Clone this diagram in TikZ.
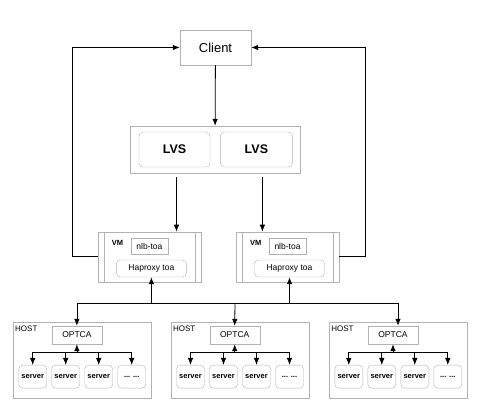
\documentclass[tikz,border=0pt]{standalone}
\usepackage{fontspec}
\setmainfont{Liberation Sans}
\usetikzlibrary{arrows.meta,positioning}

\begin{document}
\begin{tikzpicture}[x=1pt, y=-1pt, >={Latex[length=7pt,width=5.5pt]},
        box/.style={draw=gray!60, inner sep=0pt},
        soft/.style={box, rounded corners=4pt},
        link/.style={->, black, line width=0.8pt},
        small/.style={font=\fontsize{8.5}{10}\selectfont},
        srvbox/.style={soft, minimum width=28pt, minimum height=23pt, font=\bfseries\fontsize{7.5}{9}\selectfont}
    ]
    \useasboundingbox (0,0) rectangle (480,411);

    % client and lvs
    \node[box, minimum width=71pt, minimum height=35pt, font=\fontsize{13}{15}\selectfont] (client) at (215.5,47.5) {Client};
    \node[box, minimum width=170pt, minimum height=47pt] (lvsbox) at (215,149.5) {};
    \node[soft, minimum width=71pt, minimum height=35pt, font=\bfseries\fontsize{12.5}{14}\selectfont] (lvsa) at (174.5,149.5) {LVS};
    \node[soft, minimum width=72pt, minimum height=35pt, font=\bfseries\fontsize{12.5}{14}\selectfont, right=10pt of lvsa] (lvsb) {LVS};
    \draw[link] (client) -- (lvsbox);

    % vms
    \node[box, minimum width=103pt, minimum height=50pt] (vma) at (149.4,256.9) {};
    \node[box, minimum width=103pt, minimum height=50pt] (vmb) at (287.5,256.9) {};
    \draw[gray!60] ([xshift=6pt]vma.north west) -- ([xshift=6pt]vma.south west);
    \draw[gray!60] ([xshift=-6pt]vma.north east) -- ([xshift=-6pt]vma.south east);
    \draw[gray!60] ([xshift=6pt]vmb.north west) -- ([xshift=6pt]vmb.south west);
    \draw[gray!60] ([xshift=-6pt]vmb.north east) -- ([xshift=-6pt]vmb.south east);
    \node[anchor=north west, inner sep=0pt, font=\bfseries\fontsize{7.5}{9}\selectfont] at ([xshift=14pt,yshift=-8pt]vma.north west) {VM};
    \node[anchor=north west, inner sep=0pt, font=\bfseries\fontsize{7.5}{9}\selectfont] at ([xshift=14pt,yshift=-8pt]vmb.north west) {VM};
    \node[box, minimum width=37pt, minimum height=16pt, small] (nlba) at (149.4,246) {nlb-toa};
    \node[box, minimum width=37pt, minimum height=16pt, small] (nlbb) at (287.5,246) {nlb-toa};
    \node[soft, minimum width=70pt, minimum height=17pt, small] (hapa) at (151.4,268.5) {Haproxy toa};
    \node[soft, minimum width=70pt, minimum height=17pt, small] (hapb) at (289.5,268.5) {Haproxy toa};

    \draw[link, shorten <=10pt] ([xshift=2pt]lvsa.south) -- ([xshift=2pt]lvsa.south |- vma.north);
    \draw[link, shorten <=10pt] ([xshift=6pt]lvsb.south) -- ([xshift=6pt]lvsb.south |- vmb.north);
    \draw[link] (vma.west) -- ++(-25,0) |- (client.west);
    \draw[link] (vmb.east) -- ++(26,0) |- (client.east);

    % hosts
    \foreach \i/\cx in {1/82.2, 2/240, 3/398.3} {
        \node[box, minimum width=138pt, minimum height=76pt] (host\i) at (\cx,360) {};
        \node[anchor=north west, inner sep=0pt, font=\fontsize{8}{9}\selectfont] at ([xshift=2pt,yshift=-4pt]host\i.north west) {HOST};
        \node[box, minimum width=50pt, minimum height=18pt, small] (optca\i) at ({\cx-5.3},335) {OPTCA};
        \foreach \j/\dx/\lbl in {1/-49.5/server, 2/-16.5/server, 3/16.5/server, 4/49.5/{... ...}} {
            \node[srvbox] (srv\i\j) at ({\cx+\dx},376.7) {\lbl};
            \draw[link] ([yshift=-8.3pt]optca\i.south) -| (srv\i\j.north);
        }
        \draw[link] ([yshift=-8.3pt]optca\i.south) -- (optca\i.south);
    }

    \coordinate (bus) at (235,303);
    \draw[link] (bus) -| (hapa.south);
    \draw[link] (bus) -| (hapb.south);
    \draw[link] (bus) -| (optca1.north);
    \draw[link] (bus) -- (optca2.north);
    \draw[link] (bus) -| ([xshift=5pt]optca3.north);
\end{tikzpicture}
\end{document}
